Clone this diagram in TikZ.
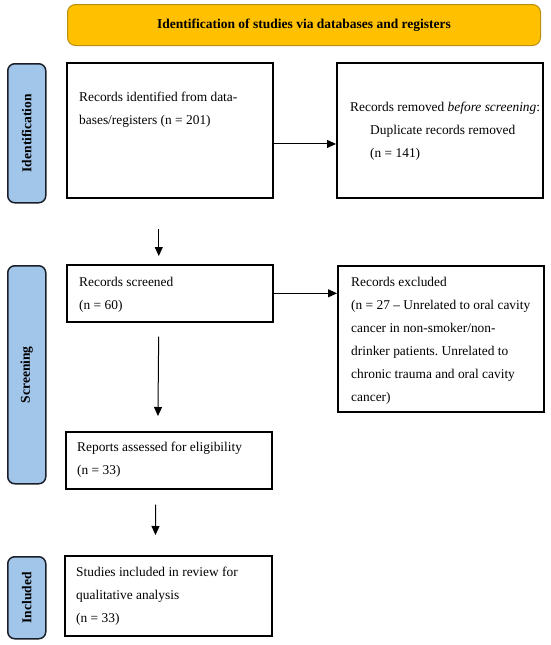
\documentclass[tikz,border=0pt]{standalone}
\usepackage{fontspec}
\setmainfont{Liberation Serif}
\frenchspacing
\usetikzlibrary{arrows.meta,calc}
\definecolor{bannerfill}{HTML}{FFC000}
\definecolor{bannerdraw}{HTML}{B8900F}
\definecolor{sidefill}{HTML}{A2C6EA}
\definecolor{sidedraw}{HTML}{1A1F2A}
\tikzset{
  box/.style={draw=black, line width=1.6pt, inner sep=0pt, anchor=north west},
  banner/.style={draw=bannerdraw, fill=bannerfill, line width=1pt, rounded corners=8pt,
    anchor=north west, inner sep=0pt, font=\fontsize{13.5}{15}\selectfont\bfseries},
  side/.style={draw=sidedraw, fill=sidefill, line width=1.5pt, rounded corners=7pt,
    anchor=north west, inner sep=0pt, minimum width=38pt},
  sidetxt/.style={rotate=90, font=\fontsize{13.5}{15}\selectfont\bfseries, inner sep=0pt},
  txt/.style={anchor=north west, inner sep=0pt, align=left,
    font=\fontsize{13.4}{23}\selectfont},
  arr/.style={line width=1pt, -{Triangle[length=9pt,width=8pt]}},
}
\begin{document}
\begin{tikzpicture}[x=1pt,y=-1pt]
\useasboundingbox (0,0) rectangle (550,645);
% banner
\node[banner, minimum width=473pt, minimum height=41pt] (ban) at (67,4)
  {Identification of studies via databases and registers};
% side labels
\node[side, minimum height=139pt] (sid) at (7,63) {};
\node[sidetxt] at (sid.center) {Identification};
\node[side, minimum height=218pt] (sscr) at (7,265) {};
\node[sidetxt] at (sscr.center) {Screening};
\node[side, minimum height=82pt] (sinc) at (7,556) {};
\node[sidetxt] at (sinc.center) {Included};
% boxes
\node[box, minimum width=206pt, minimum height=135pt] (b1) at (66,62) {};
\node[txt] (t1) at (79,92) {Records identified from data-\\bases/registers (n = 201)};
\node[box, minimum width=206pt, minimum height=135pt] (b2) at (336,62) {};
\node[txt] (t2) at (350,102) {Records removed \textit{before screening}:\\
  \hspace*{20pt}Duplicate records removed\\\hspace*{20pt}(n = 141)};
\node[box, minimum width=206pt, minimum height=57pt] (b3) at (66,264) {};
\node[txt] (t3) at (79,277) {Records screened\\(n = 60)};
\node[box, minimum width=206pt, minimum height=146pt] (b4) at (337,265) {};
\node[txt] (t4) at (351,277) {Records excluded\\(n = 27 -- Unrelated to oral cavity\\
  cancer in non-smoker/non-\\drinker patients. Unrelated to\\chronic trauma and oral cavity\\cancer)};
\node[box, minimum width=206pt, minimum height=57pt] (b5) at (65,431) {};
\node[txt] (t5) at (77,442) {Reports assessed for eligibility\\(n = 33)};
\node[box, minimum width=207pt, minimum height=80pt] (b6) at (64,555) {};
\node[txt] (t6) at (76,567) {Studies included in review for\\qualitative analysis\\(n = 33)};
% connectors
\coordinate (c1) at ($(b1.north east)!0.6!(b1.south east)$);
\draw[arr] (c1) -- (c1 -| b2.west);
\coordinate (c3) at ($(b3.north east)!0.5!(b3.south east)$);
\draw[arr] (c3) -- (c3 -| b4.west);
\draw[arr, shorten <=30pt, shorten >=8pt] ($(b1.south)+(-11,0)$) -- ($(b3.north)+(-11,0)$);
\draw[arr, shorten <=14pt, shorten >=15pt] ($(b3.south)+(-11,0)$) -- ($(b5.north)+(-11,0)$);
\draw[arr, shorten <=15pt, shorten >=20pt] ($(b5.south)+(-13,0)$) -- ($(b6.north)+(-13,0)$);
\end{tikzpicture}
\end{document}
